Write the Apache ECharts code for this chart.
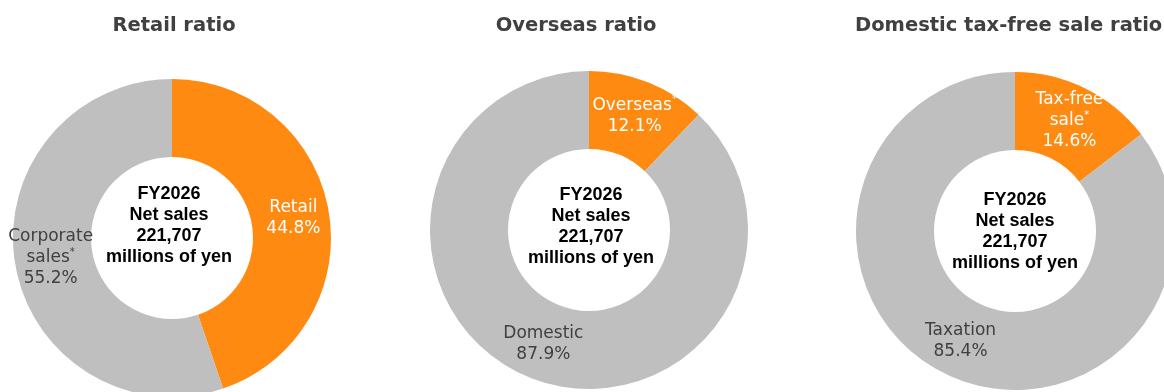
<!DOCTYPE html>
<html>
<head>
<meta charset="utf-8">
<title>Net sales composition</title>
<script src="https://cdn.jsdelivr.net/npm/echarts@6/dist/echarts.min.js"></script>
<style>
  html, body { margin: 0; padding: 0; background: #ffffff; }
  #chart { width: 1164px; height: 392px; }
</style>
</head>
<body>
<div id="chart"></div>
<script>
// Panel headings
const panelTitles = ['Retail ratio', 'Overseas ratio', 'Domestic tax-free sale ratio'];

// Highlighted (orange) slice of each donut
const highlightNames = ['Retail', 'Overseas*', 'Tax-free\nsale*'];
const highlightShares = [44.8, 12.1, 14.6];

// Remaining (grey) slice of each donut
const restNames = ['Corporate\nsales*', 'Domestic', 'Taxation'];
const restShares = [55.2, 87.9, 85.4];

// Text shown in every donut hole
const centerLines = ['FY2026', 'Net sales', '221,707', 'millions of yen'];

// Layout of the three panels
const donutCenters = [[172, 238], [589, 230], [1015, 231]];
const holeTextCenters = [[169, 226], [591, 227], [1015, 232]];
const titleAnchors = [
  { x: 174, align: 'center' },
  { x: 576, align: 'center' },
  { x: 855, align: 'left' }
];

const ORANGE = '#FF8A12';
const GREY = '#BFBFBF';
const DARK = '#404040';

// Turns "name*" lines plus a share into rich text with a raised asterisk
function sliceLabel(name, share, tone) {
  const lines = name.split('\n').map(function (line) {
    if (line.endsWith('*')) {
      return '{' + tone + '|' + line.slice(0, -1) + '}{' + tone + 'Sup|*}';
    }
    return '{' + tone + '|' + line + '}';
  });
  lines.push('{' + tone + '|' + share.toFixed(1) + '%}');
  return lines.join('\n');
}

const labelFont = { fontFamily: 'DejaVu Sans', fontSize: 17, lineHeight: 21 };
const richStyles = {
  light: Object.assign({ color: '#ffffff' }, labelFont),
  lightSup: { color: '#ffffff', fontFamily: 'DejaVu Sans', fontSize: 10, lineHeight: 12, verticalAlign: 'top' },
  dark: Object.assign({ color: DARK }, labelFont),
  darkSup: { color: DARK, fontFamily: 'DejaVu Sans', fontSize: 10, lineHeight: 12, verticalAlign: 'top' }
};

const series = panelTitles.map(function (t, i) {
  return {
    type: 'pie',
    name: t,
    center: donutCenters[i],
    radius: [81, 159],
    startAngle: 90,
    clockwise: true,
    avoidLabelOverlap: false,
    silent: true,
    label: {
      show: true,
      position: 'inside',
      formatter: function (p) {
        return sliceLabel(p.name, p.value, p.dataIndex === 0 ? 'light' : 'dark');
      },
      rich: richStyles
    },
    labelLine: { show: false },
    itemStyle: { borderWidth: 0 },
    data: [
      { name: highlightNames[i], value: highlightShares[i], itemStyle: { color: ORANGE } },
      { name: restNames[i], value: restShares[i], itemStyle: { color: GREY } }
    ]
  };
});

const graphics = [];
panelTitles.forEach(function (t, i) {
  graphics.push({
    type: 'text',
    silent: true,
    style: {
      x: titleAnchors[i].x,
      y: 26,
      text: t,
      fill: DARK,
      font: 'bold 19.5px "DejaVu Sans"',
      textAlign: titleAnchors[i].align,
      textVerticalAlign: 'middle'
    }
  });
  graphics.push({
    type: 'text',
    silent: true,
    z: 100,
    style: {
      x: holeTextCenters[i][0],
      y: holeTextCenters[i][1],
      text: centerLines.join('\n'),
      fill: '#000000',
      font: 'bold 18px "Liberation Sans"',
      lineHeight: 21,
      textAlign: 'center',
      textVerticalAlign: 'middle'
    }
  });
});

const chart = echarts.init(document.getElementById('chart'), null, { renderer: 'canvas' });
chart.setOption({
  animation: false,
  backgroundColor: '#ffffff',
  series: series,
  graphic: graphics
});
</script>
</body>
</html>
